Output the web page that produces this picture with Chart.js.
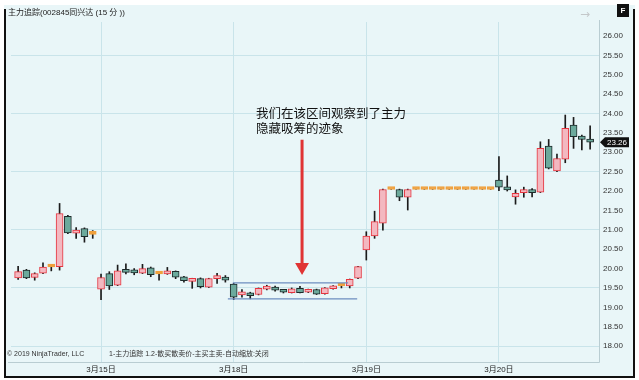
<!DOCTYPE html>
<html>
<head>
<meta charset="utf-8">
<script src="https://cdn.jsdelivr.net/npm/chart.js@4.4.1/dist/chart.umd.min.js"></script>
<style>
  html, body { margin: 0; padding: 0; background: #fff; }
  #wrap { width: 639px; height: 380px; }
</style>
</head>
<body>
<div id="wrap"><canvas id="c" width="639" height="380"></canvas></div>
<script>
// 15-minute bars, one per slot; flat bars at 22.04 are the limit-up stretch
const OPEN  = [19.76, 19.96, 19.77, 19.88, 20.04, 20.05, 21.35, 20.91, 21.03, 20.88,
               19.47, 19.87, 19.57, 19.98, 19.93, 19.88, 20.02, 19.86, 19.86, 19.93, 19.79, 19.67, 19.74, 19.52, 19.74, 19.77,
               19.60, 19.32, 19.36, 19.33, 19.47, 19.52, 19.43, 19.38, 19.49, 19.39, 19.46, 19.35, 19.48, 19.55, 19.55, 19.75,
               20.48, 20.84, 21.17, 22.04, 22.04, 21.84, 22.04, 22.04, 22.04, 22.04, 22.04, 22.04, 22.04, 22.04, 22.04, 22.04,
               22.28, 22.11, 21.85, 21.96, 22.04, 21.97, 23.16, 22.52, 22.82, 23.70, 23.42, 23.33];
const HIGH  = [20.06, 19.98, 19.89, 20.15, 20.10, 21.68, 21.37, 21.06, 21.05, 20.98,
               19.86, 19.92, 20.09, 20.12, 20.00, 20.11, 20.04, 19.88, 20.03, 19.94, 19.80, 19.75, 19.76, 19.75, 19.88, 19.82,
               19.62, 19.46, 19.39, 19.50, 19.57, 19.55, 19.45, 19.50, 19.54, 19.47, 19.47, 19.51, 19.56, 19.60, 19.73, 20.06,
               20.95, 21.48, 22.05, 22.04, 22.05, 22.05, 22.04, 22.04, 22.04, 22.04, 22.04, 22.04, 22.04, 22.04, 22.04, 22.04,
               22.89, 22.39, 22.03, 22.10, 22.06, 23.27, 23.33, 22.95, 23.96, 23.90, 23.44, 23.68];
const LOW   = [19.72, 19.74, 19.70, 19.87, 19.94, 19.96, 20.90, 20.78, 20.68, 20.78,
               19.20, 19.46, 19.56, 19.86, 19.84, 19.87, 19.79, 19.70, 19.85, 19.74, 19.65, 19.49, 19.50, 19.51, 19.62, 19.65,
               19.20, 19.26, 19.22, 19.32, 19.45, 19.42, 19.37, 19.37, 19.37, 19.38, 19.33, 19.34, 19.47, 19.50, 19.50, 19.74,
               20.22, 20.78, 20.99, 22.04, 21.75, 21.51, 22.04, 22.04, 22.04, 22.04, 22.04, 22.04, 22.04, 22.04, 22.04, 22.04,
               22.01, 22.00, 21.66, 21.84, 21.85, 21.96, 22.57, 22.50, 22.73, 23.10, 23.06, 23.08];
const CLOSE = [19.92, 19.76, 19.87, 20.04, 20.04, 21.42, 20.92, 20.99, 20.82, 20.88,
               19.77, 19.55, 19.94, 19.90, 19.89, 20.00, 19.84, 19.86, 19.94, 19.78, 19.69, 19.74, 19.53, 19.74, 19.81, 19.70,
               19.26, 19.36, 19.30, 19.49, 19.49, 19.44, 19.39, 19.48, 19.38, 19.46, 19.34, 19.50, 19.55, 19.55, 19.72, 20.05,
               20.84, 21.21, 22.04, 22.04, 21.84, 22.04, 22.04, 22.04, 22.04, 22.04, 22.04, 22.04, 22.04, 22.04, 22.04, 22.04,
               22.10, 22.03, 21.94, 22.04, 21.96, 23.10, 22.59, 22.84, 23.62, 23.40, 23.33, 23.26];

const DAY_TICKS = [10, 26, 42, 58];
const DAY_LABELS = ['3月15日', '3月18日', '3月19日', '3月20日'];

// accumulation box drawn on 3/18
const BOX_TOP = { from: 25.9, to: 39.8, price: 19.63 };
const BOX_BOTTOM = { from: 25.3, to: 40.9, price: 19.22 };
const ARROW = { at: 34.25, from: 23.32, to: 20.04 };
const NOTE = { at: 28.7, prices: [24.01, 23.63], lines: ['我们在该区间观察到了主力', '隐藏吸筹的迹象'] };

const TITLE = '主力追踪(002845同兴达 (15 分 ))';
const FOOT_LEFT = '© 2019 NinjaTrader, LLC';
const FOOT_RIGHT = '1-主力追踪 1.2-散买散卖价-主买主卖-自动缩放:关闭';

const BG = '#e9f6f8';
const GRID = '#c9e4ea';
const CANDLE = {
  up: { fill: '#f3b8c0', edge: '#e5343e' },
  down: { fill: '#6caa9c', edge: '#1d2a2a' },
  doji: { fill: '#f0a03c', edge: '#f0a03c' },
};
const CJK = '"Liberation Sans", "Noto Sans CJK SC", sans-serif';

function kind(i) {
  if (OPEN[i] === CLOSE[i]) return 'doji';
  return CLOSE[i] > OPEN[i] ? 'up' : 'down';
}

function segment(box) {
  return [{ x: box.from, y: box.price }, { x: box.to, y: box.price }];
}

const chrome = {
  id: 'chrome',
  beforeDraw(chart) {
    const { ctx, width, height } = chart;
    ctx.save();
    ctx.fillStyle = '#fff';
    ctx.fillRect(0, 0, width, height);
    ctx.fillStyle = BG;
    ctx.fillRect(4, 5, 631, 372);
    ctx.restore();
  },
  afterDraw(chart) {
    const { ctx, chartArea: a, scales } = chart;
    ctx.save();
    // plot outline
    ctx.strokeStyle = '#b9cdd2';
    ctx.lineWidth = 1;
    ctx.beginPath();
    ctx.moveTo(a.right + 0.5, 20);
    ctx.lineTo(a.right + 0.5, a.bottom + 0.5);
    ctx.lineTo(8, a.bottom + 0.5);
    ctx.stroke();

    // window frame
    ctx.strokeStyle = '#111';
    ctx.lineWidth = 2;
    ctx.beginPath();
    ctx.moveTo(5, 9);
    ctx.lineTo(5, 377);
    ctx.lineTo(634, 377);
    ctx.lineTo(634, 9);
    ctx.stroke();

    // note text
    ctx.fillStyle = '#111';
    ctx.font = '12.5px "Noto Sans CJK SC", sans-serif';
    ctx.textBaseline = 'middle';
    NOTE.lines.forEach((line, k) => {
      ctx.fillText(line, scales.x.getPixelForValue(NOTE.at), scales.y.getPixelForValue(NOTE.prices[k]));
    });

    // title and footer
    ctx.fillStyle = '#222';
    ctx.font = '8px ' + CJK;
    ctx.fillText(TITLE, 8, 13);
    ctx.font = '7px ' + CJK;
    ctx.fillStyle = '#333';
    ctx.fillText(FOOT_LEFT, 7, 354);
    ctx.fillText(FOOT_RIGHT, 109, 354);

    // grey arrow + F box
    ctx.fillStyle = '#c4c8ca';
    ctx.font = '12px "DejaVu Sans", sans-serif';
    ctx.fillText('→', 580, 15);
    ctx.fillStyle = '#111';
    ctx.fillRect(617, 4, 12, 13);
    ctx.fillStyle = '#fff';
    ctx.font = 'bold 8px "Liberation Sans", sans-serif';
    ctx.textAlign = 'center';
    ctx.fillText('F', 623, 11);

    // last price marker
    const last = CLOSE[CLOSE.length - 1];
    const y = scales.y.getPixelForValue(last);
    ctx.fillStyle = '#111';
    ctx.beginPath();
    ctx.moveTo(a.right + 1, y);
    ctx.lineTo(a.right + 6, y - 5);
    ctx.lineTo(629, y - 5);
    ctx.lineTo(629, y + 5);
    ctx.lineTo(a.right + 6, y + 5);
    ctx.closePath();
    ctx.fill();
    ctx.fillStyle = '#fff';
    ctx.font = '8px "Liberation Sans", sans-serif';
    ctx.fillText(last.toFixed(2), 617, y + 0.5);
    ctx.restore();
  },
};

const onGrid = (v) => {
  const k = (v - 18) / 1.5;
  return Math.abs(k - Math.round(k)) < 1e-6;
};

new Chart(document.getElementById('c'), {
  type: 'bar',
  data: {
    datasets: [
      {
        type: 'line',
        data: segment(BOX_TOP),
        borderColor: '#6d8dbf',
        borderWidth: 1.3,
        pointRadius: 0,
        order: 0,
      },
      {
        type: 'line',
        data: segment(BOX_BOTTOM),
        borderColor: '#6d8dbf',
        borderWidth: 1.3,
        pointRadius: 0,
        order: 0,
      },
      {
        type: 'line',
        data: [{ x: ARROW.at, y: ARROW.from }, { x: ARROW.at, y: ARROW.to }],
        borderColor: '#e03434',
        borderWidth: 3,
        pointRadius: [0, 5],
        pointStyle: 'triangle',
        pointRotation: 180,
        pointBackgroundColor: '#e03434',
        pointBorderColor: '#e03434',
        order: 0,
      },
      {
        data: CLOSE.map((c, i) => ({ x: i, y: [OPEN[i], c] })),
        backgroundColor: (ctx) => CANDLE[kind(ctx.dataIndex)].fill,
        borderColor: (ctx) => CANDLE[kind(ctx.dataIndex)].edge,
        borderWidth: 1,
        borderSkipped: false,
        barThickness: 7,
        minBarLength: 3,
        grouped: false,
        order: 1,
      },
      {
        data: HIGH.map((h, i) => ({ x: i, y: [LOW[i], h] })),
        backgroundColor: '#1b1b1b',
        borderWidth: 0,
        barThickness: 1,
        grouped: false,
        order: 2,
      },
    ],
  },
  options: {
    responsive: false,
    animation: false,
    layout: { padding: { left: 11, top: 22, right: 0, bottom: 0 } },
    plugins: { legend: { display: false }, tooltip: { enabled: false } },
    scales: {
      x: {
        type: 'linear',
        min: -0.86,
        max: 70.07,
        offset: false,
        afterBuildTicks: (scale) => { scale.ticks = DAY_TICKS.map((value) => ({ value })); },
        afterFit: (scale) => { scale.height = 18; },
        grid: { color: GRID, drawTicks: false, offset: false },
        border: { display: false },
        ticks: {
          autoSkip: false,
          maxRotation: 0,
          padding: 3,
          color: '#222',
          font: { size: 8, family: CJK },
          callback: (value, index) => DAY_LABELS[index] ?? '',
        },
      },
      y: {
        position: 'right',
        min: 17.59,
        max: 26.36,
        afterFit: (scale) => { scale.width = 40; },
        grid: { color: (ctx) => (onGrid(ctx.tick.value) ? GRID : 'transparent'), drawTicks: false },
        border: { display: false },
        ticks: {
          stepSize: 0.5,
          includeBounds: false,
          padding: 4,
          color: '#333',
          font: { size: 8, family: '"Liberation Sans", sans-serif' },
          callback: (value) => value.toFixed(2),
        },
      },
    },
  },
  plugins: [chrome],
});
</script>
</body>
</html>
